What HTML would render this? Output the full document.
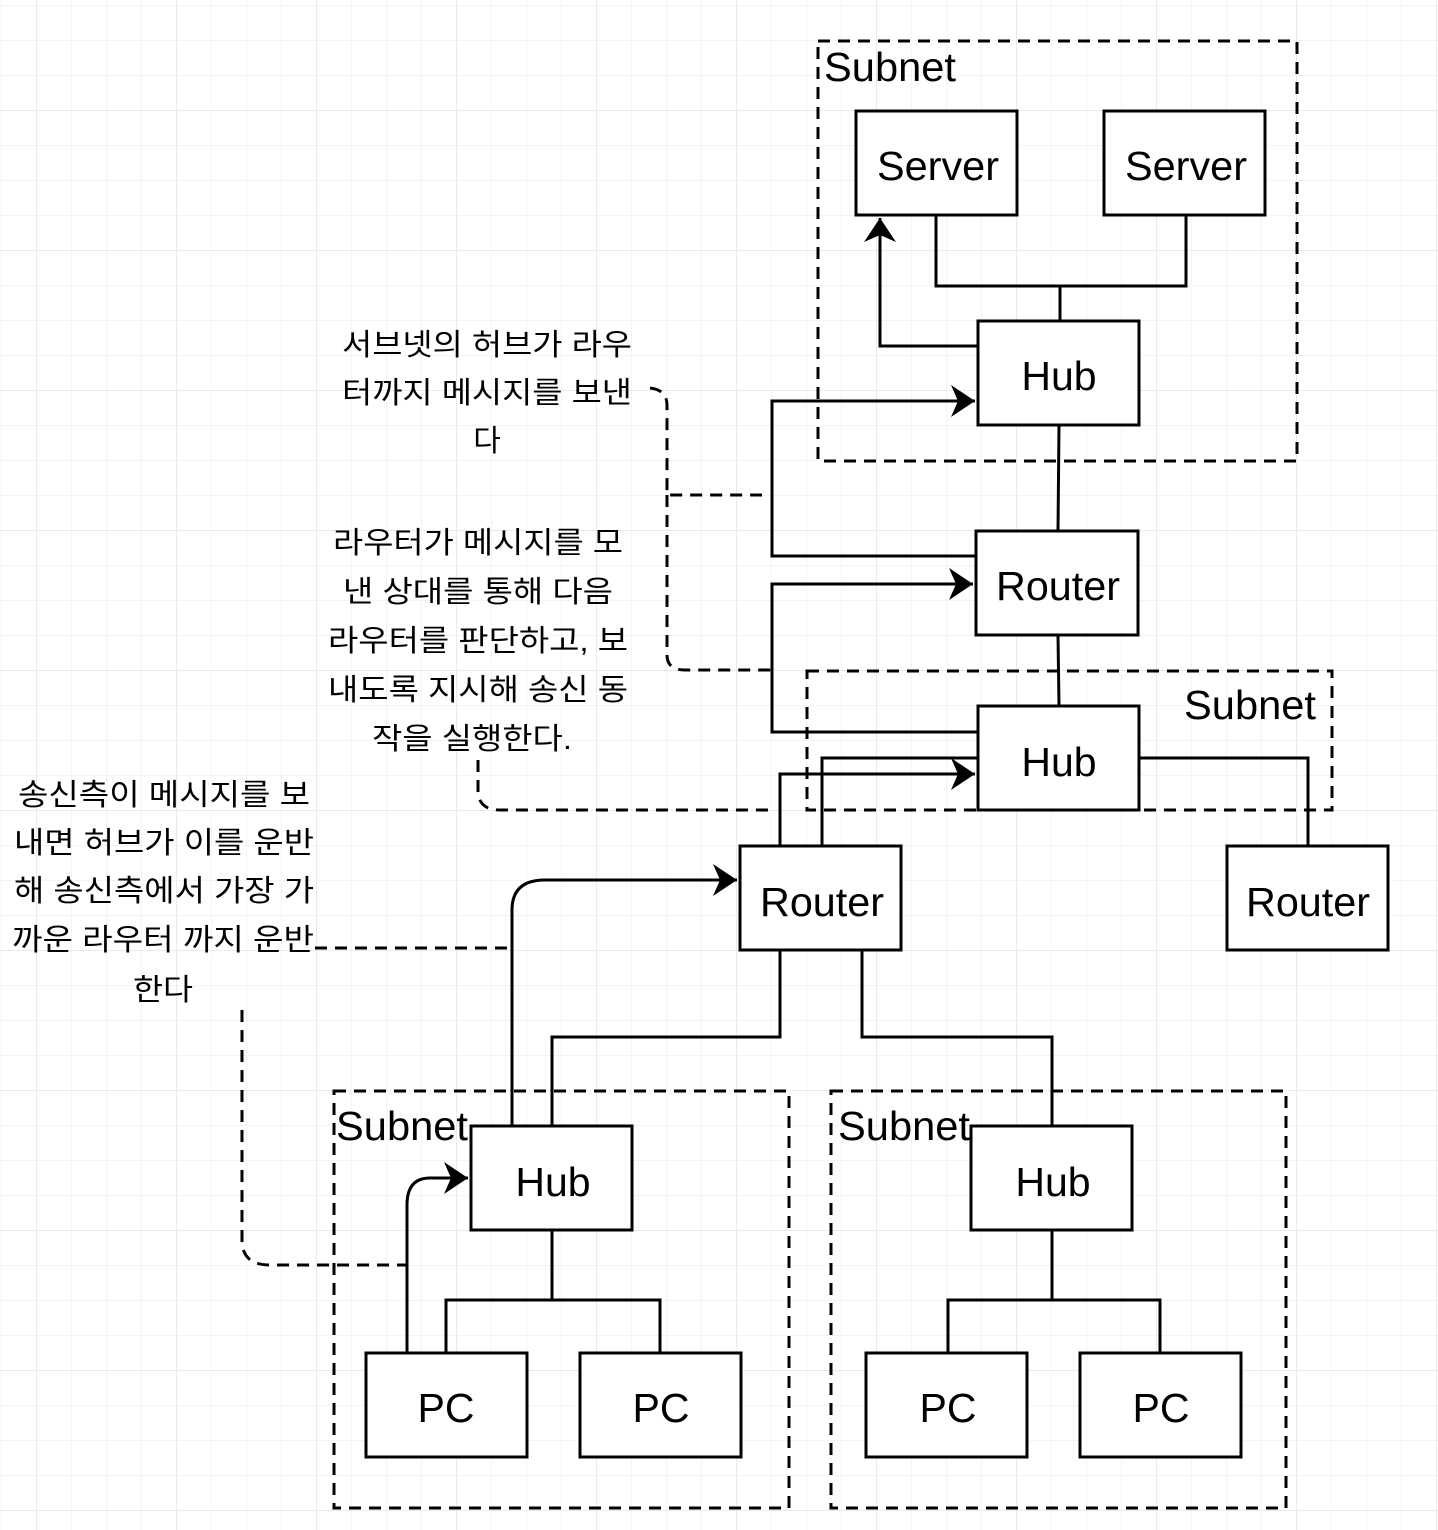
<!DOCTYPE html>
<html><head><meta charset="utf-8"><style>
html,body{margin:0;padding:0;background:#fff;}
svg{display:block;}
.k{font-family:"Liberation Sans","Noto Sans CJK KR",sans-serif;font-size:30px;fill:#000;text-anchor:middle;}
.b{font-family:"Liberation Sans",sans-serif;font-size:41px;fill:#000;text-anchor:middle;}
.s{font-family:"Liberation Sans",sans-serif;font-size:41px;fill:#000;}
</style></head><body>
<svg width="1438" height="1530" viewBox="0 0 1438 1530" xmlns="http://www.w3.org/2000/svg">
<defs>
<pattern id="g" x="1" y="5" width="35" height="35" patternUnits="userSpaceOnUse">
<path d="M0 0V35M0 0H35" stroke="#f0f0f0" stroke-width="1.5" fill="none"/></pattern>
<pattern id="G" x="36" y="110" width="140" height="140" patternUnits="userSpaceOnUse">
<path d="M0 0V140M0 0H140" stroke="#e6e6e6" stroke-width="1.5" fill="none"/></pattern>
<marker id="a" viewBox="0 0 10 10" refX="9" refY="5" markerWidth="10" markerHeight="10" markerUnits="userSpaceOnUse" orient="auto" overflow="visible">
<path d="M-24 -11 L0 5 L-24 21 L-17 5 Z" fill="#000" transform="translate(9,0)"/></marker>
</defs>
<rect width="1438" height="1530" fill="url(#g)"/>
<rect width="1438" height="1530" fill="url(#G)"/>

<g fill="none" stroke="#000" stroke-width="3" stroke-dasharray="12,8">
<rect x="818" y="41" width="479" height="420"/>
<rect x="807" y="671" width="525" height="139"/>
<rect x="334" y="1091" width="455" height="417"/>
<rect x="831" y="1091" width="455" height="417"/>
<path d="M650 388 Q667 390 667 405 V495 H762"/>
<path d="M667 495 V655 Q667 670 685 670 H772"/>
<path d="M478 760 V790 Q478 810 500 810 H772"/>
<path d="M315 948 H515"/>
<path d="M242 1010 V1240 Q242 1265 270 1265 H407"/>
</g>

<g fill="none" stroke="#000" stroke-width="3">
<path d="M936 215 V286 H1186 V215 M1060 286 V321"/>
<path d="M1059 425 L1058 531 M1058 635 L1059 706"/>
<path d="M978 758 H822 V846 M1139 758 H1308 V846"/>
<path d="M780 950 V1037 H552 V1126 M862 950 V1037 H1052 V1126"/>
<path d="M552 1230 V1300 M446 1353 V1300 H660 V1353"/>
<path d="M1052 1230 V1300 M948 1353 V1300 H1160 V1353"/>
<path d="M978 346 H880 V218" marker-end="url(#a)"/>
<path d="M976 556 H772 V401 H975" marker-end="url(#a)"/>
<path d="M978 732 H772 V584 H973" marker-end="url(#a)"/>
<path d="M780 846 V774 H975" marker-end="url(#a)"/>
<path d="M512 1126 V910 Q512 880 545 880 H737" marker-end="url(#a)"/>
<path d="M407 1353 V1205 Q407 1178 430 1178 H468" marker-end="url(#a)"/>
</g>

<g fill="#fff" stroke="#000" stroke-width="3">
<rect x="856" y="111" width="161" height="104"/>
<rect x="1104" y="111" width="161" height="104"/>
<rect x="978" y="321" width="161" height="104"/>
<rect x="976" y="531" width="162" height="104"/>
<rect x="978" y="706" width="161" height="104"/>
<rect x="740" y="846" width="161" height="104"/>
<rect x="1227" y="846" width="161" height="104"/>
<rect x="471" y="1126" width="161" height="104"/>
<rect x="971" y="1126" width="161" height="104"/>
<rect x="366" y="1353" width="161" height="104"/>
<rect x="580" y="1353" width="161" height="104"/>
<rect x="866" y="1353" width="161" height="104"/>
<rect x="1080" y="1353" width="161" height="104"/>
</g>

<text class="s" x="824" y="81" textLength="132" lengthAdjust="spacingAndGlyphs">Subnet</text>
<text class="s" x="1184" y="719" textLength="132" lengthAdjust="spacingAndGlyphs">Subnet</text>
<text class="s" x="336" y="1140" textLength="132" lengthAdjust="spacingAndGlyphs">Subnet</text>
<text class="s" x="838" y="1140" textLength="132" lengthAdjust="spacingAndGlyphs">Subnet</text>

<text class="b" x="938" y="180" textLength="122" lengthAdjust="spacingAndGlyphs">Server</text>
<text class="b" x="1186" y="180" textLength="122" lengthAdjust="spacingAndGlyphs">Server</text>
<text class="b" x="1059" y="390">Hub</text>
<text class="b" x="1058" y="600" textLength="124" lengthAdjust="spacingAndGlyphs">Router</text>
<text class="b" x="1059" y="776">Hub</text>
<text class="b" x="822" y="916" textLength="124" lengthAdjust="spacingAndGlyphs">Router</text>
<text class="b" x="1308" y="916" textLength="124" lengthAdjust="spacingAndGlyphs">Router</text>
<text class="b" x="553" y="1196">Hub</text>
<text class="b" x="1053" y="1196">Hub</text>
<text class="b" x="446" y="1422">PC</text>
<text class="b" x="661" y="1422">PC</text>
<text class="b" x="948" y="1422">PC</text>
<text class="b" x="1161" y="1422">PC</text>

<g class="k">
<text x="487" y="355" textLength="290" lengthAdjust="spacingAndGlyphs">서브넷의 허브가 라우</text>
<text x="487" y="403" textLength="290" lengthAdjust="spacingAndGlyphs">터까지 메시지를 보낸</text>
<text x="487" y="451">다</text>
<text x="478" y="553" textLength="290" lengthAdjust="spacingAndGlyphs">라우터가 메시지를 모</text>
<text x="478" y="602" textLength="270" lengthAdjust="spacingAndGlyphs">낸 상대를 통해 다음</text>
<text x="478" y="651" textLength="300" lengthAdjust="spacingAndGlyphs">라우터를 판단하고, 보</text>
<text x="478" y="700" textLength="300" lengthAdjust="spacingAndGlyphs">내도록 지시해 송신 동</text>
<text x="472" y="749" textLength="200" lengthAdjust="spacingAndGlyphs">작을 실행한다.</text>
<text x="164" y="805" textLength="292" lengthAdjust="spacingAndGlyphs">송신측이 메시지를 보</text>
<text x="164" y="853" textLength="300" lengthAdjust="spacingAndGlyphs">내면 허브가 이를 운반</text>
<text x="164" y="901" textLength="300" lengthAdjust="spacingAndGlyphs">해 송신측에서 가장 가</text>
<text x="163" y="950" textLength="302" lengthAdjust="spacingAndGlyphs">까운 라우터 까지 운반</text>
<text x="163" y="1000" textLength="60" lengthAdjust="spacingAndGlyphs">한다</text>
</g>
</svg>
</body></html>
